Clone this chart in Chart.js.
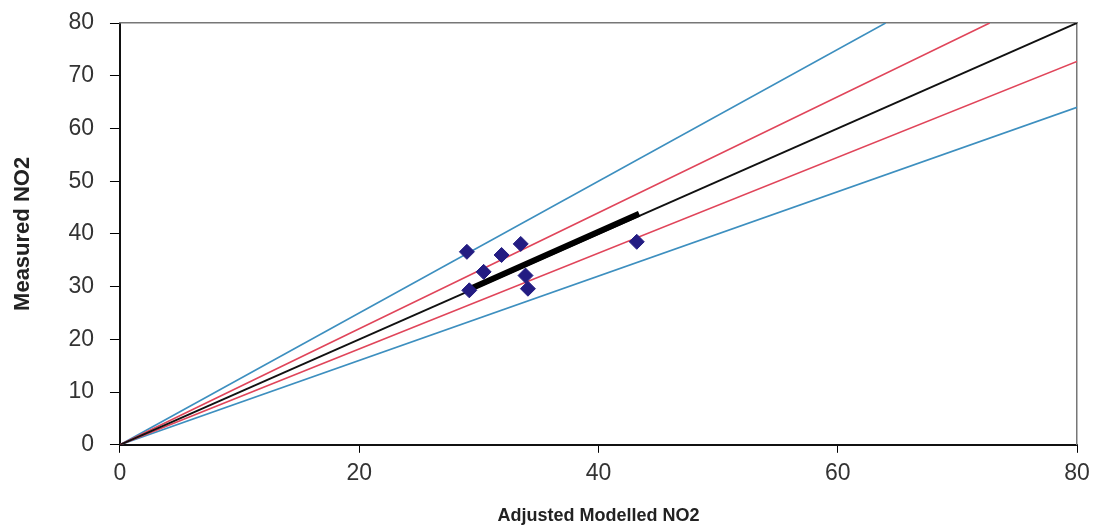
<!DOCTYPE html>
<html>
<head>
<meta charset="utf-8">
<script src="https://cdn.jsdelivr.net/npm/chart.js@4"></script>
<style>
  html, body { margin: 0; padding: 0; background: #fff; }
  #wrap { width: 1096px; height: 531px; }
</style>
</head>
<body>
<div id="wrap"><canvas id="no2Chart" width="1096" height="531"></canvas></div>
<script>
// measured sites
const modelledX = [29.0, 31.9, 33.5, 30.4, 33.9, 34.1, 29.2, 43.2];
const measuredY = [36.6, 36.0, 38.1, 32.8, 32.1, 29.6, 29.3, 38.5];

// reference lines (start / end points)
const lineOneToOne = { x: [0, 80], y: [0, 80] };
const lineRedUpper = { x: [0, 72.7], y: [0, 80] };
const lineRedLower = { x: [0, 80], y: [0, 72.7] };
const lineBlueUpper = { x: [0, 64], y: [0, 80] };
const lineBlueLower = { x: [0, 80], y: [0, 64] };
// fitted line through the points
const lineFit = { x: [29.2, 43.4], y: [29.5, 43.8] };

const yTicks = [0, 10, 20, 30, 40, 50, 60, 70, 80];
const xTicks = [0, 20, 40, 60, 80];

function toPoints(xs, ys) {
  return xs.map((x, i) => ({ x: x, y: ys[i] }));
}

function lineSet(line, color, width, order) {
  return {
    type: "line",
    data: toPoints(line.x, line.y),
    borderColor: color,
    borderWidth: width,
    pointRadius: 0,
    fill: false,
    order: order,
  };
}

const ctx = document.getElementById("no2Chart").getContext("2d");
new Chart(ctx, {
  type: "scatter",
  data: {
    datasets: [
      {
        label: "Sites",
        data: toPoints(modelledX, measuredY),
        pointStyle: "rectRot",
        pointRadius: 7.5,
        backgroundColor: "#231c82",
        borderColor: "#231c82",
        borderWidth: 1,
        order: 0,
      },
      lineSet(lineFit, "#000000", 6, 1),
      lineSet(lineOneToOne, "#111111", 2, 2),
      lineSet(lineRedUpper, "#e0455a", 1.6, 3),
      lineSet(lineRedLower, "#e0455a", 1.6, 3),
      lineSet(lineBlueUpper, "#3d8fbf", 1.6, 4),
      lineSet(lineBlueLower, "#3d8fbf", 1.6, 4),
    ],
  },
  options: {
    responsive: false,
    animation: false,
    layout: { autoPadding: false, padding: { top: 23, right: 19, left: 8, bottom: 4 } },
    plugins: { legend: { display: false }, tooltip: { enabled: false } },
    scales: {
      x: {
        type: "linear",
        position: "bottom",
        min: 0,
        max: 80,
        afterBuildTicks: (axis) => {
          axis.ticks = xTicks.map((v) => ({ value: v }));
        },
        afterFit: (axis) => {
          axis.paddingLeft = 0;
          axis.paddingRight = 0;
        },
        grid: { drawOnChartArea: false, drawTicks: true, tickLength: 8, color: "#000" },
        border: { display: true, color: "#111", width: 2 },
        ticks: { font: { family: "Liberation Sans", size: 23 }, color: "#333", padding: 7, maxRotation: 0 },
        title: {
          display: true,
          text: "Adjusted Modelled NO2",
          font: { family: "Liberation Sans", size: 18, weight: "bold" },
          color: "#222",
          padding: { top: 11, bottom: 0 },
        },
      },
      y: {
        type: "linear",
        position: "left",
        min: 0,
        max: 80,
        afterBuildTicks: (axis) => {
          axis.ticks = yTicks.map((v) => ({ value: v }));
        },
        afterFit: (axis) => {
          axis.paddingTop = 0;
          axis.paddingBottom = 0;
        },
        grid: { drawOnChartArea: false, drawTicks: true, tickLength: 10, color: "#000" },
        border: { display: true, color: "#111", width: 2 },
        ticks: { font: { family: "Liberation Sans", size: 23 }, color: "#333", padding: 16 },
        title: {
          display: true,
          text: "Measured NO2",
          font: { family: "Liberation Sans", size: 22, weight: "bold" },
          color: "#222",
          padding: { top: 2, bottom: 16 },
        },
      },
      xTop: {
        type: "linear",
        position: "top",
        min: 0,
        max: 80,
        grid: { display: false, drawTicks: false },
        border: { display: true, color: "#777", width: 1.5 },
        ticks: { display: false },
      },
      yRight: {
        type: "linear",
        position: "right",
        min: 0,
        max: 80,
        grid: { display: false, drawTicks: false },
        border: { display: true, color: "#777", width: 1.5 },
        ticks: { display: false },
      },
    },
  },
});
</script>
</body>
</html>
